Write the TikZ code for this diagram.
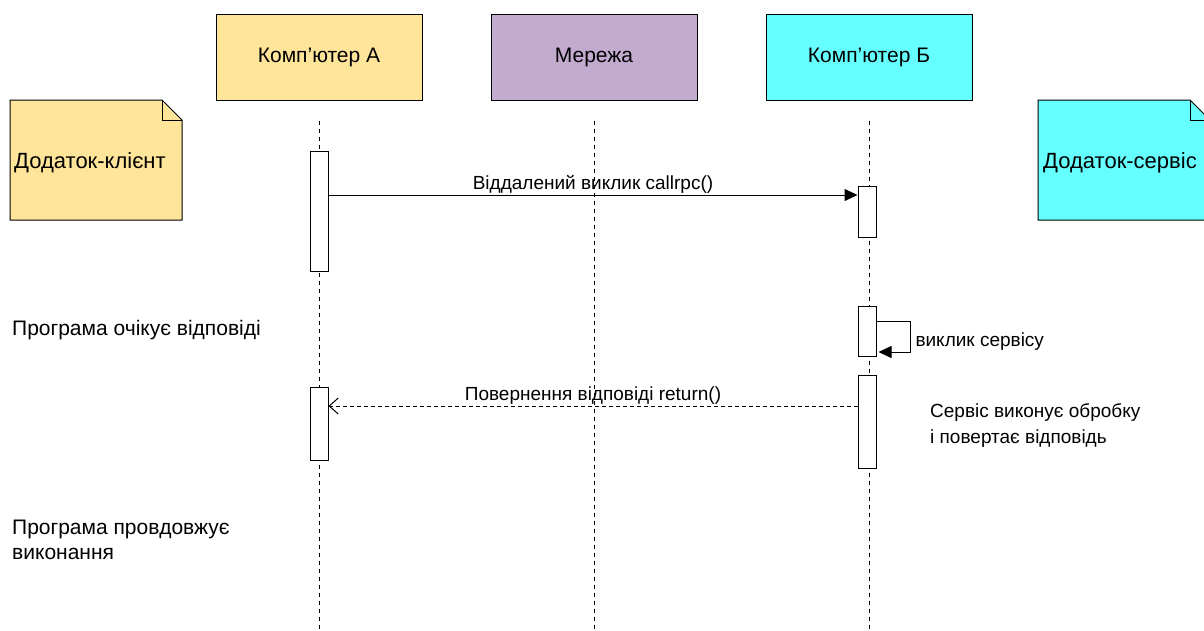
\documentclass[tikz,border=0pt]{standalone}
\usepackage{fontspec}
\setmainfont{Liberation Sans}
\usetikzlibrary{positioning,arrows.meta}

\definecolor{yellowA}{HTML}{FFE599}
\definecolor{purpleN}{HTML}{C3ABD0}
\definecolor{cyanB}{HTML}{66FFFF}

\tikzset{
  head/.style={draw, line width=1pt, minimum width=206pt, minimum height=86pt, font=\fontsize{21}{25}\selectfont},
  life/.style={dash pattern=on 4pt off 4pt, line width=0.8pt},
  actbar/.style={draw, fill=white, line width=1pt, minimum width=18pt, inner sep=0pt},
  call/.style={line width=1pt, -{Triangle[length=13pt,width=12pt]}},
  reply/.style={line width=1pt, dash pattern=on 4pt off 3pt, -{Straight Barb[length=9pt,width=16pt]}},
  lbl/.style={font=\fontsize{19}{22}\selectfont, inner sep=1pt},
  side/.style={font=\fontsize{21}{25}\selectfont, align=left, anchor=west, inner sep=0pt},
  notetxt/.style={font=\fontsize{22}{26}\selectfont, inner sep=0pt},
}

\begin{document}
\begin{tikzpicture}[x=1pt, y=-1pt]
	\useasboundingbox (0,0) rectangle (1204,630);
	% headers
	\node[head, fill=yellowA] (compA) at (319,57) {Комп’ютер А};
	\node[head, fill=purpleN, right=68pt of compA] (net) {Мережа};
	\node[head, fill=cyanB, right=68pt of net] (compB) {Комп’ютер Б};
	% lifelines
	\coordinate (endA) at (319,630);
	\draw[life] (compA.south) ++(0,20) -- (endA);
	\draw[life] (net.south) ++(0,20) -- (net.south |- endA);
	\draw[life] (compB.south) ++(0,20) -- (compB.south |- endA);
	% notes
	\draw[line width=1pt, fill=yellowA] (10,100) -- (162,100) -- (182,120) -- (182,220) -- (10,220) -- cycle;
	\draw[line width=1pt] (162,100) -- (162,120) -- (182,120);
	\node[notetxt, anchor=west] (client) at (14,163) {Додаток-клієнт};
	\draw[line width=1pt, fill=cyanB] (1038,100) -- (1190,100) -- (1210,120) -- (1210,220) -- (1038,220) -- cycle;
	\draw[line width=1pt] (1190,100) -- (1190,120) -- (1210,120);
	\node[notetxt, anchor=west] (server) at (1043,163) {Додаток-сервіс};
	% activations
	\node[actbar, minimum height=120pt] (actA1) at (319,211) {};
	\node[actbar, minimum height=73pt] (actA2) at (319,423.5) {};
	\node[actbar, minimum height=51pt] (actB1) at (867,211.5) {};
	\node[actbar, minimum height=50pt] (actB2) at (867,331) {};
	\node[actbar, minimum height=93pt] (actB3) at (867,421.5) {};
	% messages
	\coordinate (callY) at (0,195);
	\draw[call] (actA1.east |- callY) -- node[lbl, above] (callLbl) {Віддалений виклик callrpc()} (actB1.west |- callY);
	\coordinate (selfA) at (910,321);
	\coordinate (selfB) at (910,352);
	\draw[call] (actB2.east |- selfA) -- (selfA) -- node[lbl, right=4pt, yshift=-5pt] (selfLbl) {виклик сервісу} (selfB) -- ([xshift=2pt]actB2.east |- selfB);
	\coordinate (retY) at (0,406);
	\draw[reply] (actB3.west |- retY) -- node[lbl, above] (retLbl) {Повернення відповіді return()} (actA2.east |- retY);
	% side texts
	\node[side] (wait) at (12,330) {Програма очікує відповіді};
	\node[side, font=\fontsize{19}{26}\selectfont] (work) at (930,425) {Сервіс виконує обробку\\і повертає відповідь};
	\node[side] (cont) at (12,540) {Програма провдовжує\\виконання};
\end{tikzpicture}
\end{document}
